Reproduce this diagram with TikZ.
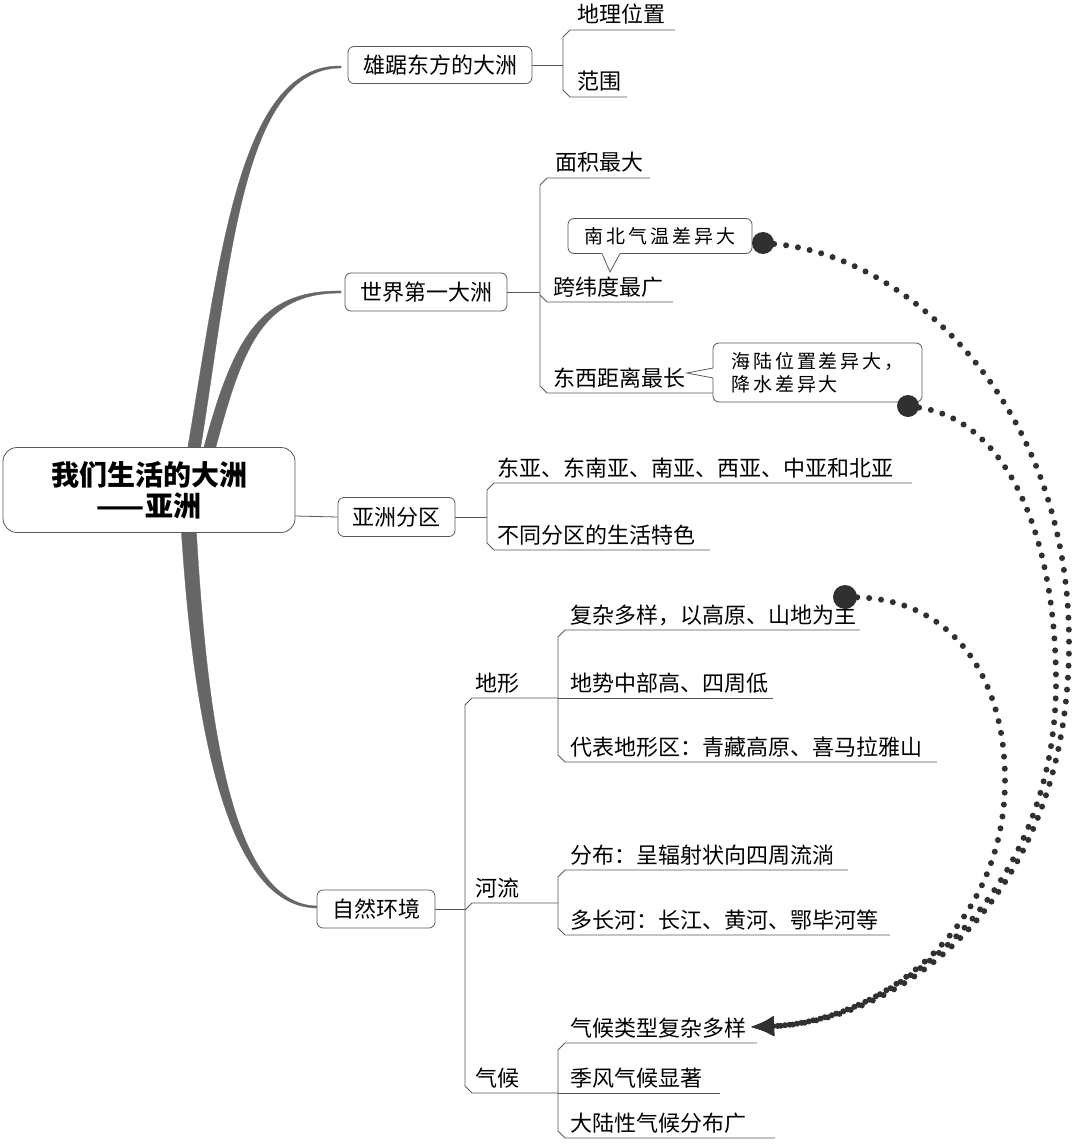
\documentclass[tikz,border=0pt]{standalone}
\usepackage{fontspec}
\setmainfont{Noto Sans CJK SC}
\newfontfamily\callfont[LetterSpace=15]{Noto Sans CJK SC}
\usetikzlibrary{arrows.meta}
\definecolor{ln}{HTML}{5A5A5A}
\definecolor{br}{HTML}{666666}
\definecolor{dt}{HTML}{303030}
\begin{document}
\begin{tikzpicture}[x=1pt,y=-1pt,
  conn/.style={draw=ln, line width=0.8pt},
  lbox/.style={draw=ln, line width=0.8pt, rounded corners=6pt, fill=white,
    minimum width=#1, minimum height=37pt, inner sep=0pt,
    font=\fontsize{22}{26}\selectfont},
  item/.style={anchor=base west, inner sep=0pt, font=\fontsize{22}{26}\selectfont},
  callbox/.style={draw=ln, line width=0.8pt, rounded corners=6pt, fill=white,
    inner sep=0pt, font={\callfont\fontsize{19}{23}\selectfont}},
  blob/.style={circle, fill=dt, minimum size=22pt, inner sep=0pt},
  dotline/.style={draw=dt, line width=6pt, line cap=round,
    dash pattern=on 0pt off 12pt,
    -{Latex[length=24pt,width=21pt]}},
  branch/.style={fill=br, draw=br, line width=0.3pt}
]
\useasboundingbox[fill=white] (0,0) rectangle (1080,1147);

% ---------- main tapered branches ----------
\fill[branch] (186,458) .. controls (220,260) and (238,64) .. (341,66)
  -- (341,68) .. controls (242,68) and (231,262) .. (199,458) -- cycle;
\fill[branch] (201,458) .. controls (232,340) and (258,290) .. (341,291)
  -- (341,293) .. controls (261,293) and (242,348) .. (213,458) -- cycle;
\fill[branch] (181,525) .. controls (192,705) and (222,909) .. (318,908)
  -- (318,906) .. controls (227,906) and (206,700) .. (196,525) -- cycle;

% ---------- root ----------
\node[draw=ln, line width=0.8pt, rounded corners=14pt, fill=white,
  minimum width=292pt, minimum height=85pt, align=center,
  font=\fontsize{28}{31}\selectfont\bfseries] (root) at (149,490)
  {我们生活的大洲\\——亚洲};

% ---------- level 1 boxes ----------
\node[lbox=184pt] (b1) at (440,65) {雄踞东方的大洲};
\node[lbox=162pt, minimum height=38pt] (b2) at (426,292) {世界第一大洲};
\node[lbox=117pt, minimum height=39pt] (b3) at (396.5,517) {亚洲分区};
\node[lbox=118pt, minimum height=38pt] (b4) at (376,909) {自然环境};

\draw[conn] (295,516) -- (b3.west);

% ---------- group 1 ----------
\node[item] (t11) at (577,23) {地理位置};
\node[item] (t12) at (577,90) {范围};
\draw[conn] (b1.east) -- (563,65);
\draw[conn] (675,30) -- (570,30) -- (563,37) -- (563,90) -- (570,97) -- (627,97);

% ---------- group 2 ----------
\node[item] (t21) at (555,171) {面积最大};
\node[item] (t22) at (553,295) {跨纬度最广};
\node[item] (t23) at (553,386) {东西距离最长};
\draw[conn] (b2.east) -- (540,292);
\draw[conn] (650,178) -- (547,178) -- (540,185) -- (540,386) -- (547,393) -- (713,393);
\draw[conn] (540,295) -- (547,302) -- (673,302);

% callout 1
\node[callbox, minimum width=184pt, minimum height=35pt] (c1) at (660,236) {南北气温差异大};
\fill[white] (601,251.5) -- (621,251.5) -- (610,271) -- cycle;
\draw[conn] (602,253.5) -- (610,272) -- (620,253.5);

% callout 2
\node[callbox, minimum width=209pt, minimum height=59pt, align=left] (c2) at (817.5,372.5)
  {海陆位置差异大，\\降水差异大};
\fill[white] (714.5,368) -- (714.5,378) -- (688,373) -- cycle;
\draw[conn] (713,368) -- (687,373) -- (713,378);

% ---------- group 3 ----------
\node[item] (t31) at (497,476) {东亚、东南亚、南亚、西亚、中亚和北亚};
\node[item] (t32) at (497,543) {不同分区的生活特色};
\draw[conn] (b3.east) -- (487,517);
\draw[conn] (912,483) -- (494,483) -- (487,490) -- (487,543) -- (494,550) -- (710,550);

% ---------- group 4 ----------
\node[item] (dx) at (475,691) {地形};
\node[item] (hl) at (475,896) {河流};
\node[item] (qh) at (475,1086) {气候};
\draw[conn] (b4.east) -- (465,909);
\draw[conn] (558,698) -- (472,698) -- (465,705) -- (465,1086) -- (472,1093) -- (558,1093);
\draw[conn] (465,910) -- (472,903) -- (558,903);

% 地形
\node[item] (d1) at (570,623) {复杂多样，以高原、山地为主};
\node[item] (d2) at (570,691) {地势中部高、四周低};
\node[item] (d3) at (570,755) {代表地形区：青藏高原、喜马拉雅山};
\draw[conn] (860,630) -- (565,630) -- (558,637) -- (558,755) -- (565,762) -- (937,762);
\draw[conn] (558,698) -- (773,698);

% 河流
\node[item] (h1) at (570,863) {分布：呈辐射状向四周流淌};
\node[item] (h2) at (570,928) {多长河：长江、黄河、鄂毕河等};
\draw[conn] (848,870) -- (565,870) -- (558,877) -- (558,928) -- (565,935) -- (890,935);

% 气候
\node[item] (q1) at (570,1036) {气候类型复杂多样};
\node[item] (q2) at (570,1086) {季风气候显著};
\node[item] (q3) at (570,1131) {大陆性气候分布广};
\draw[conn] (757,1043) -- (565,1043) -- (558,1050) -- (558,1131) -- (565,1138) -- (775,1138);
\draw[conn] (558,1093) -- (720,1093);

% ---------- dotted links ----------
\node[blob] (bA) at (763,243) {};
\node[blob] (bB) at (908,406) {};
\node[blob, minimum size=24pt] (bC) at (845,597) {};
\coordinate (tip) at (750,1027);

\draw[dotline] (bA) .. controls (905,255) and (1068,400) .. (1069,640)
  .. controls (1070,900) and (900,1022) .. (tip);
\draw[dotline] (bB) .. controls (1005,420) and (1055,530) .. (1056,680)
  .. controls (1057,900) and (890,1022) .. (tip);
\draw[dotline] (bC) .. controls (955,600) and (1005,680) .. (1005,780)
  .. controls (1005,930) and (880,1022) .. (tip);
\end{tikzpicture}
\end{document}
